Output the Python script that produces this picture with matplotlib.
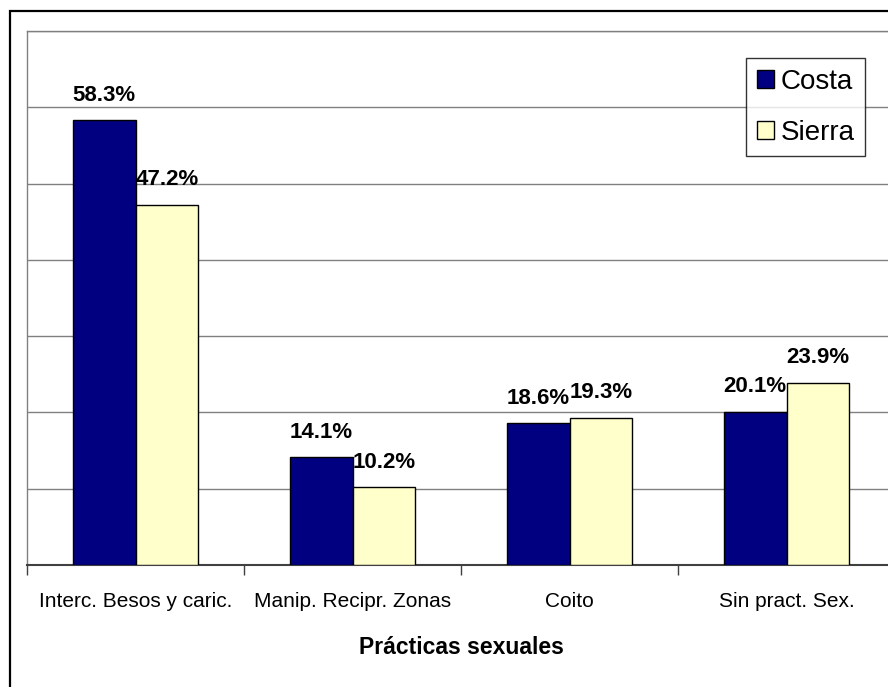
import numpy as np
import matplotlib.pyplot as plt
from matplotlib.patches import Rectangle

plt.rcParams['font.family'] = ['Liberation Sans', 'DejaVu Sans']

# datos
categorias = ['Interc. Besos y caric.', 'Manip. Recipr. Zonas', 'Coito', 'Sin pract. Sex.']
costa = [58.3, 14.1, 18.6, 20.1]
sierra = [47.2, 10.2, 19.3, 23.9]

fig = plt.figure(figsize=(8.88, 6.87), dpi=100)
W, H = 888, 687

# marco exterior del grafico
fig.patches.append(Rectangle((9.5 / W, -0.1), 1.2, 1 - 11 / H + 0.1,
                             transform=fig.transFigure, fill=False,
                             edgecolor='black', linewidth=1.6))

ax = fig.add_axes([27 / W, (H - 565) / H, 868 / W, 534 / H])

x = np.arange(len(categorias)) + 0.5
ancho = 0.29
b1 = ax.bar(x - ancho / 2, costa, ancho, color='#000080', edgecolor='black',
            linewidth=1.0, label='Costa', zorder=3)
b2 = ax.bar(x + ancho / 2, sierra, ancho, color='#FFFFCC', edgecolor='black',
            linewidth=1.0, label='Sierra', zorder=3)

for barras, vals in [(b1, costa), (b2, sierra)]:
    for r, v in zip(barras, vals):
        ax.annotate(f'{v}%', (r.get_x() + r.get_width() / 2, v),
                    xytext=(0, 14), textcoords='offset points',
                    ha='center', va='baseline', fontsize=16, fontweight='bold')

ax.set_xlim(0, 4)
ax.set_ylim(0, 70)
ax.set_yticks(np.arange(10, 71, 10))
ax.yaxis.grid(True, color='#808080', linewidth=1.0, zorder=0)
ax.tick_params(axis='y', left=False, labelleft=False)

ax.set_xticks(np.arange(0, 5))
ax.set_xticklabels([])
ax.set_xticks(x, minor=True)
ax.set_xticklabels(categorias, minor=True, fontsize=15)
ax.tick_params(axis='x', which='major', length=7, color='#404040', width=1)
ax.tick_params(axis='x', which='minor', length=0, pad=19.5)

for s in ['top', 'left', 'right']:
    ax.spines[s].set_color('#808080')
    ax.spines[s].set_linewidth(1.0)
ax.spines['bottom'].set_color('#404040')
ax.spines['bottom'].set_linewidth(1.5)

ax.set_xlabel('Prácticas sexuales', fontsize=16.5, fontweight='bold', labelpad=18)

leg = ax.legend(loc='upper left', bbox_to_anchor=(746 / W, 1 - 58 / H),
                bbox_transform=fig.transFigure, fontsize=20, frameon=True,
                fancybox=False, handlelength=0.62, handleheight=0.62,
                handletextpad=0.25, labelspacing=0.9, borderpad=0.38,
                borderaxespad=0)
leg.get_frame().set_edgecolor('black')
leg.get_frame().set_linewidth(1.0)

fig.savefig('out.png', dpi=100)
